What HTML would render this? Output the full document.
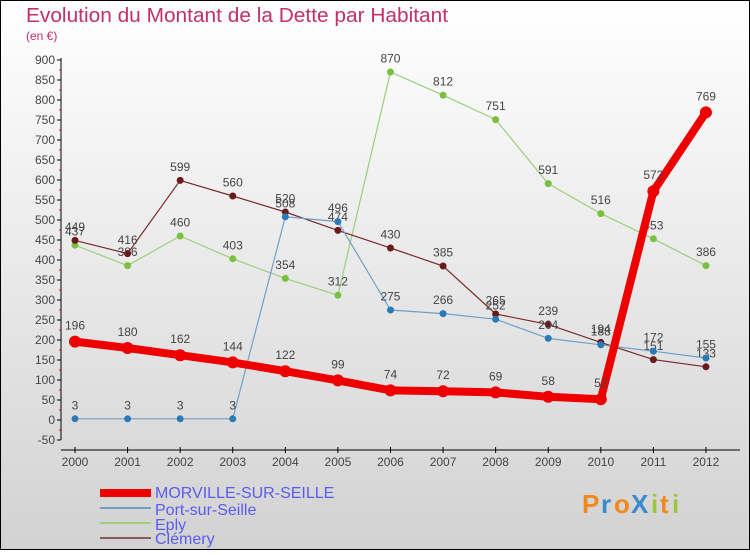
<!DOCTYPE html>
<html><head><meta charset="utf-8"><style>
body{margin:0;width:750px;height:550px;overflow:hidden}
svg text{font-family:"Liberation Sans",sans-serif}
</style></head><body>
<svg id="s" width="750" height="550" xmlns="http://www.w3.org/2000/svg">
<defs><linearGradient id="g" x1="0" y1="0" x2="0" y2="1"><stop offset="0" stop-color="#ffffff"/><stop offset="1" stop-color="#d2d2d2"/></linearGradient></defs>
<rect x="0.5" y="0.5" width="749" height="549" fill="url(#g)" stroke="#000"/>
<text x="26" y="22" font-size="20" fill="#c0306a" textLength="422" lengthAdjust="spacingAndGlyphs">Evolution du Montant de la Dette par Habitant</text>
<text x="26" y="40" font-size="12" fill="#c0306a">(en €)</text>
<g id="ax"></g><g id="ser"></g>
<g font-size="16" fill="#5b5bf0">
<rect x="100" y="489" width="51" height="8" fill="#e00"/>
<line x1="100" y1="508" x2="151" y2="508" stroke="#6fa0c8" stroke-width="2"/>
<line x1="100" y1="523" x2="151" y2="523" stroke="#9bd07a" stroke-width="2"/>
<line x1="100" y1="538" x2="151" y2="538" stroke="#8a5a5a" stroke-width="2"/>
<text x="155" y="498">MORVILLE-SUR-SEILLE</text>
<text x="155" y="515">Port-sur-Seille</text>
<text x="155" y="530">Eply</text>
<text x="155" y="544">Clémery</text>
</g>
<g font-size="26" font-weight="bold">
<text x="582" y="513" fill="#f08a1c">P</text><text x="601" y="513" fill="#3a8ad0">r</text><text x="614" y="513" fill="#f08a1c">o</text><text x="631" y="513" fill="#3a8ad0">X</text><text x="651" y="513" fill="#9bc83a">i</text><text x="660" y="513" fill="#f08a1c">t</text><text x="672" y="513" fill="#9bc83a">i</text>
</g>
</svg>
<script>
const NS="http://www.w3.org/2000/svg";
function el(p,t,a,txt){const e=document.createElementNS(NS,t);for(const k in a)e.setAttribute(k,a[k]);if(txt!=null)e.textContent=txt;p.appendChild(e);return e;}
const Y=v=>60+(900-v)*0.4, X=i=>75+52.58*i;
const ax=document.getElementById('ax');
el(ax,'line',{x1:61,y1:58,x2:61,y2:440,stroke:'#000'});
el(ax,'line',{x1:61,y1:450,x2:740,y2:450,stroke:'#000'});
for(let v=-50;v<=900;v+=50){const y=Y(v);el(ax,'line',{x1:57,y1:y,x2:61,y2:y,stroke:'#000'});
el(ax,'text',{x:55,y:y+4,'font-size':12,'text-anchor':'end',fill:'#444'},v);
if(v<900)el(ax,'line',{x1:59,y1:y-10,x2:61,y2:y-10,stroke:'#e00'});}
for(let i=0;i<13;i++){const x=X(i);el(ax,'line',{x1:x,y1:447,x2:x,y2:453,stroke:'#000'});
el(ax,'text',{x:x,y:466,'font-size':12,'text-anchor':'middle',fill:'#444'},2000+i);}
const S=[
{d:[437,386,460,403,354,312,870,812,751,591,516,453,386],c:'#9bd07a',f:'#7ac040',w:1.2,r:3.5},
{d:[449,416,599,560,520,474,430,385,265,239,194,151,133],c:'#7a2a2a',f:'#6a1a1a',w:1.2,r:3.5},
{d:[3,3,3,3,508,496,275,266,252,204,188,172,155],c:'#6fa0c8',f:'#2a7ab8',w:1.2,r:3.5},
{d:[196,180,162,144,122,99,74,72,69,58,52,572,769],c:'#ee0000',f:'#ee0000',w:8,r:6}];
const g=document.getElementById('ser');
for(const s of S){el(g,'polyline',{points:s.d.map((v,i)=>X(i)+','+Y(v)).join(' '),fill:'none',stroke:s.c,'stroke-width':s.w});
s.d.forEach((v,i)=>{el(g,'circle',{cx:X(i),cy:Y(v),r:s.r,fill:s.f});
el(g,'text',{x:X(i),y:Y(v)-(s.r+6),'font-size':12,'text-anchor':'middle',fill:'#444'},v);});}
</script>
</body></html>
